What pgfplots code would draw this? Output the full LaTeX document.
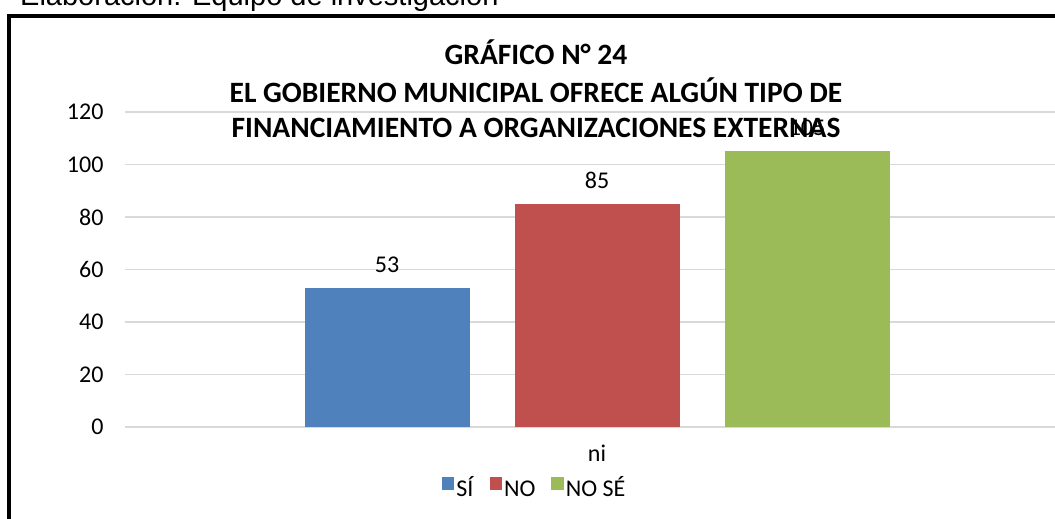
\documentclass[border=0pt]{standalone}
\usepackage{fontspec}
\setmainfont{Carlito}
\newfontfamily\arialfont{Liberation Sans}
\usepackage{pgfplots}
\pgfplotsset{compat=1.18}
\definecolor{cSi}{HTML}{4F81BD}
\definecolor{cNo}{HTML}{C0504D}
\definecolor{cNs}{HTML}{9BBB59}
\definecolor{gridc}{HTML}{D9D9D9}

\begin{document}
\begin{tikzpicture}[x=1pt,y=1pt]
\useasboundingbox (0,0) rectangle (1055,519);
\clip (0,0) rectangle (1055,519);
\fill[white] (0,0) rectangle (1055,519);

% source note, cut at the top of the image
\node[anchor=base west, inner sep=0pt, font=\arialfont\fontsize{29}{33}\selectfont]
  at (20,513) {Elaboración: Equipo de investigación};

% chart frame
\draw[line width=3.5pt] (9,-50) -- (9,503) -- (1100,503);

% title
\node[font=\bfseries\fontsize{29.5}{34}\selectfont] at (536,467) {GRÁFICO N° 24};
\node[font=\bfseries\fontsize{29.5}{34}\selectfont] at (536,429) {EL GOBIERNO MUNICIPAL OFRECE ALGÚN TIPO DE};
\node[font=\bfseries\fontsize{29.5}{34}\selectfont] at (536,391) {FINANCIAMIENTO A ORGANIZACIONES EXTERNAS};

\begin{axis}[
  at={(125pt,92pt)}, anchor=south west,
  scale only axis, width=944pt, height=315pt,
  xmin=-1, xmax=1, ymin=0, ymax=120,
  ytick={0,20,...,120},
  xtick={0}, xticklabels={ni},
  ybar=45pt, bar width=165pt,
  axis line style={draw=none},
  major tick length=0pt,
  ymajorgrids, grid style={gridc, line width=1.6pt},
  tick label style={font=\fontsize{24}{28}\selectfont},
  /pgf/number format/assume math mode=true,
  yticklabel style={xshift=-18pt},
  xticklabel style={yshift=-14pt},
  nodes near coords,
  every node near coord/.append style={font=\fontsize{24}{28}\selectfont, yshift=12pt, text=black},
  legend style={at={(0.434,-0.194)}, anchor=center, draw=none, fill=none,
    font=\fontsize{24}{28}\selectfont, legend columns=3,
    nodes={text height=17pt, text depth=1pt, inner sep=2pt},
    /tikz/every even column/.append style={column sep=14pt}},
  sq/.style={legend image code/.code={\fill[##1] (0pt,-1.5pt) rectangle (12.5pt,11pt);}},
  clip=false,
]
  \addplot[fill=cSi, draw=none, sq] coordinates {(0,53)};
  \addplot[fill=cNo, draw=none, sq] coordinates {(0,85)};
  \addplot[fill=cNs, draw=none, sq] coordinates {(0,105)};
  \legend{SÍ, NO, NO SÉ}
\end{axis}
\end{tikzpicture}
\end{document}
